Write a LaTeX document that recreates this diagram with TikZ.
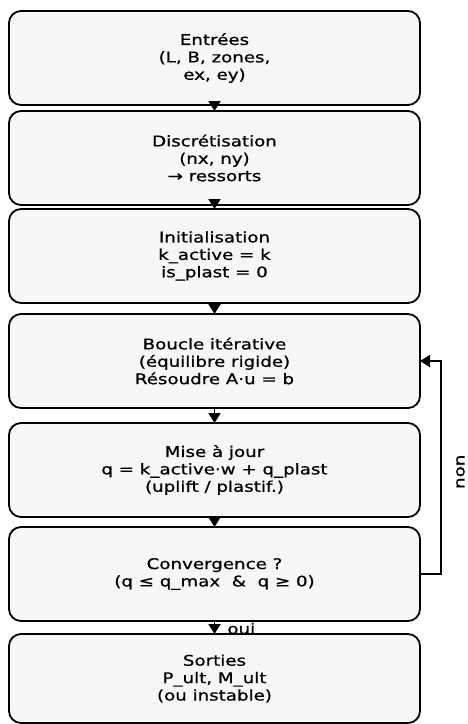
\documentclass[tikz,border=0pt]{standalone}
\usepackage{fontspec}
\setmainfont{DejaVu Sans}[FakeStretch=1.24,FakeBold=0.8]
\usetikzlibrary{arrows.meta,positioning}

\begin{document}
\begin{tikzpicture}
[stepbox/.style={rectangle, rounded corners=12pt, draw=black, line width=1.8pt,
  fill=black!3, minimum width=411pt, minimum height=94pt, align=center,
  outer sep=0pt, font=\fontsize{14.7pt}{17.4pt}\selectfont},
 tag/.style={font=\fontsize{14.7pt}{17.4pt}\selectfont},
 >={Triangle[width=12pt,length=10pt]}, line width=1.8pt]
  \useasboundingbox (0,0) rectangle (468pt,-724pt);
  \node[stepbox] (Entrees) at (214.5pt,-58pt) {Entrées\\(L, B, zones,\\ex, ey)};
  \node[stepbox, below=6pt of Entrees] (Discret) {Discrétisation\\(nx, ny)\\→ ressorts}
    edge[<-] (Entrees);
  \node[stepbox, below=4pt of Discret] (Init) {Initialisation\\k\_active = k\\is\_plast = 0}
    edge[<-] (Discret);
  \node[stepbox, below=11pt of Init] (Boucle) {Boucle itérative\\(équilibre rigide)\\Résoudre A·u = b}
    edge[<-] (Init);
  \node[stepbox, below=15pt of Boucle] (MaJ) {Mise à jour\\q = k\_active·w + q\_plast\\(uplift / plastif.)}
    edge[<-] (Boucle);
  \node[stepbox, below=10pt of MaJ] (Conv) {Convergence ?\\(q ≤ q\_max~~\&~~q ≥ 0)}
    edge[<-] (MaJ);
  \node[stepbox, minimum height=89pt, below=13pt of Conv] (Sorties) {Sorties\\P\_ult, M\_ult\\(ou instable)}
    edge[<-] node[tag, anchor=base west, inner sep=0pt, pos=0, xshift=12pt] {oui} (Conv);
  \draw[->] (Conv.east) -- ++(21pt,0) |- node[tag, pos=0.24, xshift=11pt, rotate=90, anchor=north] {non} (Boucle.east);
\end{tikzpicture}
\end{document}
